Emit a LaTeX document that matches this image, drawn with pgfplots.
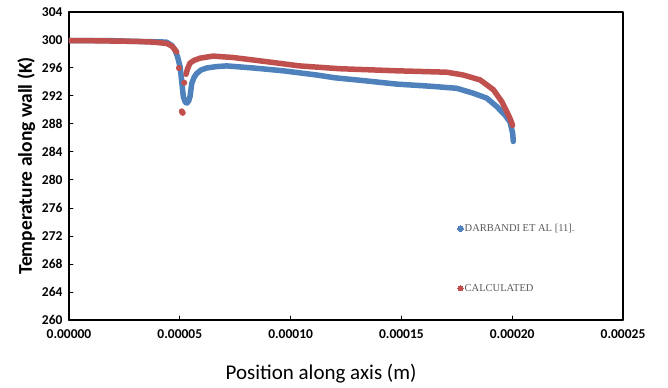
\documentclass[border=0pt]{standalone}
\usepackage{pgfplots}
\pgfplotsset{compat=1.18}
\usepackage{fontspec}
\setmainfont{Carlito}
\newfontfamily\legfont{Liberation Serif}
\definecolor{dblue}{HTML}{4F81BD}
\definecolor{dred}{HTML}{C0504D}
\definecolor{leggray}{HTML}{595959}
\begin{document}
\begin{tikzpicture}
\begin{axis}[
  name=ax,
  scale only axis,
  width=554bp, height=308bp,
  xmin=0, xmax=0.00025, ymin=260, ymax=304,
  xtick={0,0.00005,0.0001,0.00015,0.0002,0.00025},
  xticklabels={0.00000,0.00005,0.00010,0.00015,0.00020,0.00025},
  ytick={260,264,268,272,276,280,284,288,292,296,300,304},
  yticklabels={260,264,268,272,276,280,284,288,292,296,300,304},
  scaled x ticks=false,
  tick pos=left, tick align=inside,
  major tick length=4bp,
  tick style={black, line width=1bp},
  axis line style={black, line width=1.3bp},
  ticklabel style={font=\fontsize{13.5bp}{15bp}\selectfont\bfseries},
  xticklabel style={yshift=-6bp},
  yticklabel style={xshift=-3bp},
  xlabel={Position along axis (m)},
  ylabel={Temperature along wall (K)},
  xlabel style={font=\fontsize{21bp}{23bp}\selectfont, at={(ticklabel cs:0.455)}, anchor=north, yshift=-19bp},
  ylabel style={font=\fontsize{19.5bp}{22bp}\selectfont\bfseries, yshift=0bp},
  legend style={draw=none, fill=none, at={(axis cs:0.0001740,274.2)}, anchor=north west,
    font=\legfont\fontsize{10.5bp}{12bp}\selectfont, text=leggray, row sep=48bp,
    nodes={inner sep=1.5bp}},
  legend cell align=left,
  line cap=round, line join=round,
]
% DARBANDI ET AL [11]
\addplot[dblue, line width=5.5bp, mark=none,
  legend image code/.code={\fill[dblue, line width=0pt] (0bp,0bp) circle (2.7bp);}] coordinates {
(0,299.9) (0.00001,299.9) (0.00002,299.9) (0.00003,299.8) (0.000038,299.75)
(0.000044,299.7) (0.0000465,299.2) (0.0000478,298.6) (0.000049,297.6) (0.0000501,296.2)
(0.0000508,294.3) (0.0000516,291.9) (0.0000525,291.1) (0.0000533,291.0)
(0.000054,291.3) (0.0000546,291.9) (0.0000554,293.8) (0.0000565,294.7) (0.0000576,295.2)
(0.0000595,295.7) (0.0000621,296.0) (0.0000665,296.2) (0.0000712,296.3)
(0.0000832,296.0) (0.0000967,295.6) (0.0001118,295.0) (0.00012,294.6)
(0.0001328,294.2) (0.0001479,293.7) (0.0001629,293.4) (0.000175,293.1)
(0.0001824,292.4) (0.0001885,291.7) (0.000193,290.5) (0.0001967,289.3)
(0.000199,288.3) (0.0002002,286.7) (0.0002005,285.5)
};
\addlegendentry{DARBANDI ET AL [11].}
% CALCULATED
\addplot[dred, line width=5.5bp, mark=none,
  legend image code/.code={\fill[dred, line width=0pt] (0bp,0bp) circle (2.7bp);}] coordinates {
(0,299.9) (0.00001,299.9) (0.00002,299.85) (0.00003,299.8) (0.000038,299.7)
(0.0000442,299.5) (0.0000465,299.1) (0.0000486,298.3)
};
\addlegendentry{CALCULATED}
\addplot[dred, only marks, mark=*, mark size=2.8bp, forget plot] coordinates {
(0.0000496,296.0) (0.0000509,289.8) (0.0000513,289.6) (0.000052,293.9)
};
\addplot[dred, line width=5.5bp, mark=none, forget plot] coordinates {
(0.0000528,295.1) (0.0000535,295.9) (0.0000546,296.7) (0.0000565,297.1) (0.0000591,297.4)
(0.000065,297.7) (0.000074,297.5) (0.0000893,296.9) (0.000104,296.3)
(0.000122,295.9) (0.0001479,295.6) (0.0001704,295.4) (0.0001779,295.0)
(0.0001855,294.3) (0.0001915,292.9) (0.0001953,291.2) (0.0001975,289.8)
(0.000199,288.8) (0.0002002,287.8)
};
\end{axis}
\pgfresetboundingbox
\path (ax.south west) ++(-69bp,-68bp) coordinate (bl);
\path (ax.north east) ++(45bp,12bp) coordinate (tr);
\path[use as bounding box] (bl) rectangle (tr);
\end{tikzpicture}
\end{document}
